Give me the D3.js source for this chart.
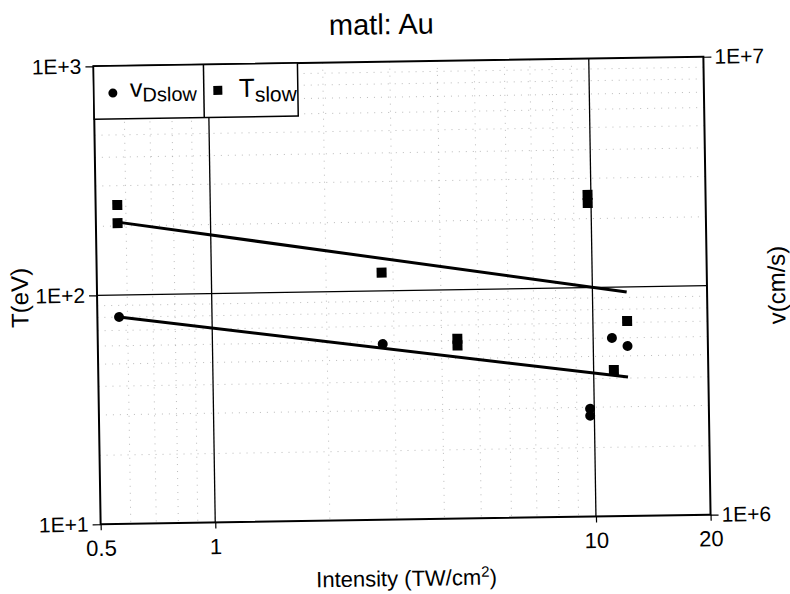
<!DOCTYPE html>
<html lang="en">
<head>
<meta charset="utf-8">
<title>matl: Au</title>
<script src="https://d3js.org/d3.v7.min.js"></script>
<style>
    body { margin: 0; background: white; }
    text { font-family: "Liberation Sans", Arial, Helvetica, sans-serif; fill: black; }
</style>
</head>
<body>
<div id="chart_data"></div>

<script>
    // data
    var intensityT = [0.57, 0.57, 2.8, 4.4, 4.4, 9.8, 9.8, 11.3, 12.3];   // TW/cm2
    var tSlow      = [247, 206, 120, 61, 57, 254, 234, 43.5, 71];          // eV
    var intensityV = [0.57, 2.8, 11.2, 12.3, 9.75, 9.75];
    var vDslow     = [2.83e6, 2.42e6, 2.45e6, 2.35e6, 1.72e6, 1.66e6];     // cm/s

    // fitted lines (end points)
    var fitX = [0.57, 12.3];
    var fitT = [208, 95];
    var fitV = [2.83e6, 2.01e6];

    var xTicks = [0.5, 1, 10, 20];
    var tTicks = [10, 100, 1000];
    var vTicks = [1e6, 1e7];

    var margin = {top: 61.5, right: 83, bottom: 74.5, left: 97},
        width = 790 - margin.left - margin.right,   // 610
        height = 594 - margin.top - margin.bottom;  // 458

    var svg = d3.select("#chart_data")
      .append("svg")
        .attr("width", 790)
        .attr("height", 594);

    // the scanned page sits slightly tilted
    var page = svg.append("g")
        .attr("transform", "rotate(-0.9,401.5,290.5)");

    var g = page.append("g")
        .attr("transform", "translate(" + margin.left + "," + margin.top + ")");

    var x = d3.scaleLog().domain([0.5, 20]).range([0, width]);
    var yT = d3.scaleLog().domain([10, 1000]).range([height, 0]);
    var yV = d3.scaleLog().domain([1e6, 1e7]).range([height, 0]);

    // minor dotted grid
    var minorX = [0.6, 0.7, 0.8, 0.9, 2, 3, 4, 5, 6, 7, 8, 9];
    var minorY = [20, 30, 40, 50, 60, 70, 80, 90, 200, 300, 400, 500, 600, 700, 800, 900];
    g.selectAll(".minx").data(minorX).enter().append("line")
        .attr("x1", function(d){ return x(d) }).attr("x2", function(d){ return x(d) })
        .attr("y1", 0).attr("y2", height)
        .attr("stroke", "#aaa").attr("stroke-width", 0.8)
        .attr("stroke-dasharray", "1,6");
    g.selectAll(".miny").data(minorY).enter().append("line")
        .attr("x1", 0).attr("x2", width)
        .attr("y1", function(d){ return yT(d) }).attr("y2", function(d){ return yT(d) })
        .attr("stroke", "#aaa").attr("stroke-width", 0.8)
        .attr("stroke-dasharray", "1,6");

    // major solid grid
    g.selectAll(".majx").data([1, 10]).enter().append("line")
        .attr("x1", function(d){ return x(d) }).attr("x2", function(d){ return x(d) })
        .attr("y1", 0).attr("y2", height)
        .attr("stroke", "black").attr("stroke-width", 1.3);
    g.append("line")
        .attr("x1", 0).attr("x2", width)
        .attr("y1", yT(100)).attr("y2", yT(100))
        .attr("stroke", "black").attr("stroke-width", 1.3);

    // axes
    var expFmt = function(d){ return "1E+" + Math.round(Math.log10(d)) };

    var axL = g.append("g")
        .call(d3.axisLeft(yT).tickValues(tTicks).tickFormat(expFmt).tickSize(8).tickPadding(4));
    var axR = g.append("g")
        .attr("transform", "translate(" + width + ",0)")
        .call(d3.axisRight(yV).tickValues(vTicks).tickFormat(expFmt).tickSize(8).tickPadding(3));
    var axB = g.append("g")
        .attr("transform", "translate(0," + height + ")")
        .call(d3.axisBottom(x).tickValues(xTicks).tickFormat(d3.format("")).tickSize(6).tickPadding(10));

    [axL, axR, axB].forEach(function(a){
        a.select(".domain").remove();
        a.selectAll(".tick line").attr("stroke", "black").attr("stroke-width", 1.2);
        a.selectAll(".tick text")
            .style("font-family", "'Liberation Sans', Arial, sans-serif")
            .style("font-size", "21px");
    });
    axB.selectAll(".tick text").style("font-size", "22px");

    // frame
    g.append("rect")
        .attr("width", width).attr("height", height)
        .attr("fill", "none").attr("stroke", "black").attr("stroke-width", 2);

    // fit lines
    var lineT = d3.line()
        .x(function(d, i){ return x(fitX[i]) })
        .y(function(d){ return yT(d) });
    var lineV = d3.line()
        .x(function(d, i){ return x(fitX[i]) })
        .y(function(d){ return yV(d) });
    g.append("path").datum(fitT)
        .attr("fill", "none").attr("stroke", "black").attr("stroke-width", 3)
        .attr("d", lineT);
    g.append("path").datum(fitV)
        .attr("fill", "none").attr("stroke", "black").attr("stroke-width", 3)
        .attr("d", lineV);

    // T_slow squares
    g.selectAll(".sq").data(tSlow).enter().append("rect")
        .attr("x", function(d, i){ return x(intensityT[i]) - 5 })
        .attr("y", function(d){ return yT(d) - 5 })
        .attr("width", 10).attr("height", 10)
        .attr("fill", "black");

    // v_Dslow circles
    g.selectAll(".ci").data(vDslow).enter().append("circle")
        .attr("cx", function(d, i){ return x(intensityV[i]) })
        .attr("cy", function(d){ return yV(d) })
        .attr("r", 5)
        .attr("fill", "black");

    // legend
    var leg = g.append("g");
    leg.append("rect")
        .attr("x", 0).attr("y", 0).attr("width", 204).attr("height", 53)
        .attr("fill", "white").attr("stroke", "black").attr("stroke-width", 1.5);
    leg.append("line")
        .attr("x1", 110).attr("x2", 110).attr("y1", 0).attr("y2", 53)
        .attr("stroke", "black").attr("stroke-width", 1.5);
    leg.append("circle")
        .attr("cx", 19).attr("cy", 27).attr("r", 4.5).attr("fill", "black");
    var t1 = leg.append("text").attr("x", 36).attr("y", 31).style("font-size", "25px");
    t1.append("tspan").text("v");
    t1.append("tspan").attr("dy", 5).style("font-size", "20px").text("Dslow");
    leg.append("rect")
        .attr("x", 119.5).attr("y", 21.5).attr("width", 9).attr("height", 9).attr("fill", "black");
    var t2 = leg.append("text").attr("x", 145).attr("y", 33).style("font-size", "26px");
    t2.append("tspan").text("T");
    t2.append("tspan").attr("dy", 5).style("font-size", "21px").text("slow");

    // titles
    page.append("text")
        .attr("x", 385.5).attr("y", 34)
        .attr("text-anchor", "middle")
        .style("font-size", "29px")
        .text("matl: Au");

    var xl = page.append("text")
        .attr("x", 402).attr("y", 586)
        .attr("text-anchor", "middle")
        .style("font-size", "22px");
    xl.append("tspan").text("Intensity (TW/cm");
    xl.append("tspan").attr("dy", -8).style("font-size", "15px").text("2");
    xl.append("tspan").attr("dy", 8).text(")");

    page.append("text")
        .attr("transform", "translate(28,292) rotate(-90)")
        .attr("text-anchor", "middle")
        .style("font-size", "24px")
        .text("T(eV)");

    page.append("text")
        .attr("transform", "translate(785,291) rotate(-90)")
        .attr("text-anchor", "middle")
        .style("font-size", "24px")
        .text("v(cm/s)");
</script>
</body>
</html>
